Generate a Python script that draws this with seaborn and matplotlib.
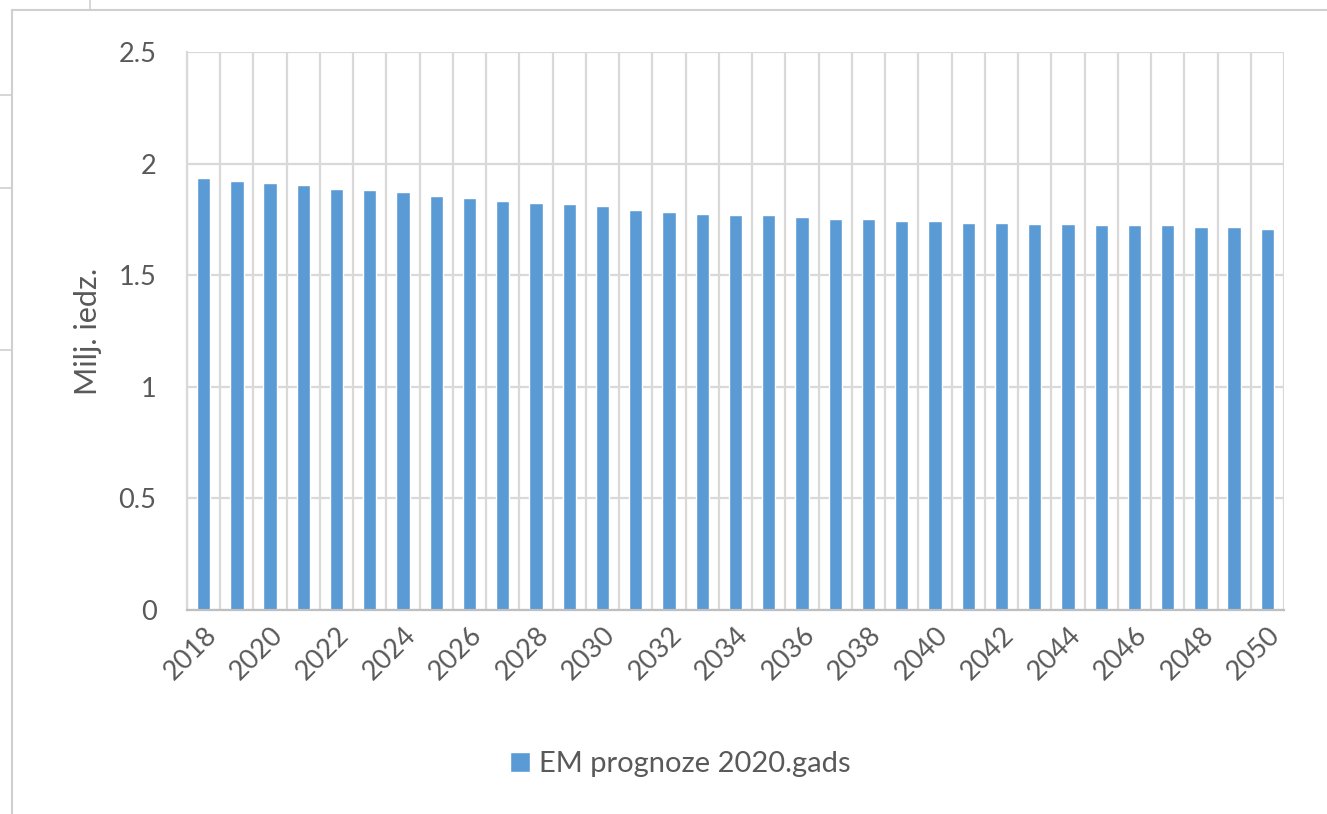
import numpy as np
import pandas as pd
import matplotlib
matplotlib.use("Agg")
import matplotlib.pyplot as plt
import seaborn as sns
from matplotlib.lines import Line2D
from matplotlib.patches import Rectangle

years = list(range(2018, 2051))
values = [
    1.936, 1.920, 1.911, 1.905, 1.888, 1.881, 1.872, 1.857, 1.848, 1.833,
    1.824, 1.817, 1.808, 1.793, 1.784, 1.776, 1.769, 1.769, 1.760, 1.752,
    1.752, 1.745, 1.745, 1.736, 1.736, 1.730, 1.730, 1.723, 1.723, 1.723,
    1.714, 1.714, 1.706,
]
series_name = "EM prognoze 2020.gads"
y_label = "Milj. iedz."

df = pd.DataFrame({"year": [str(y) for y in years], "value": values})

sns.set_style("white")
plt.rcParams["font.family"] = ["Lato", "DejaVu Sans"]
text_col = "#595959"
grid_col = "#d9d9d9"

fig = plt.figure(figsize=(13.27, 8.14), dpi=100)

# chart area frame and spreadsheet cell lines behind it
fig.add_artist(Rectangle((12 / 1327, -0.1), 1.2, 1 - 10 / 814 + 0.1,
                         transform=fig.transFigure, fill=False,
                         edgecolor="#d0d0d0", lw=1.5))
for yy in [95, 188, 350]:
    fig.add_artist(Line2D([0, 11 / 1327], [1 - yy / 814] * 2,
                          transform=fig.transFigure, color="#d0d0d0", lw=1.2))
fig.add_artist(Line2D([90 / 1327] * 2, [1 - 9 / 814, 1],
                      transform=fig.transFigure, color="#d0d0d0", lw=1.2))

ax = fig.add_axes([187 / 1327, 1 - 610 / 814, (1284 - 187) / 1327, (610 - 52) / 814])
sns.barplot(data=df, x="year", y="value", color="#5B9BD5", width=0.4,
            saturation=1, ax=ax, label=series_name)

n = len(years)
ax.set_xlim(-0.5, n - 0.5)
ax.set_ylim(0, 2.5)
ax.set_yticks(np.arange(0, 2.51, 0.5))
ax.set_yticklabels(["0", "0.5", "1", "1.5", "2", "2.5"])
ax.set_xticks(range(0, n, 2))
ax.set_xticklabels([str(y) for y in years[::2]], rotation=45,
                   ha="right", rotation_mode="anchor")
ax.set_xticks(np.arange(-0.5, n, 1), minor=True)
ax.grid(axis="y", color=grid_col, lw=1.6)
ax.grid(axis="x", which="minor", color=grid_col, lw=1.6)
ax.set_axisbelow(True)
ax.tick_params(axis="both", which="both", length=0, labelsize=19.5,
               labelcolor=text_col)
ax.tick_params(axis="x", pad=9)
ax.tick_params(axis="y", pad=22)
for s in ["top", "right"]:
    ax.spines[s].set_visible(False)
ax.spines["left"].set_color(grid_col)
ax.spines["left"].set_linewidth(1.6)
ax.spines["bottom"].set_color("#bfbfbf")
ax.spines["bottom"].set_linewidth(1.6)
ax.set_xlabel("")
ax.set_ylabel(y_label, fontsize=22, color=text_col, labelpad=12)

ax.legend(loc="center", bbox_to_anchor=(680 / 1327, 1 - 764 / 814),
          bbox_transform=fig.transFigure, frameon=False, fontsize=21,
          handlelength=0.7, handleheight=0.7, handletextpad=0.3,
          labelcolor=text_col)

fig.savefig("out.png", dpi=100)
